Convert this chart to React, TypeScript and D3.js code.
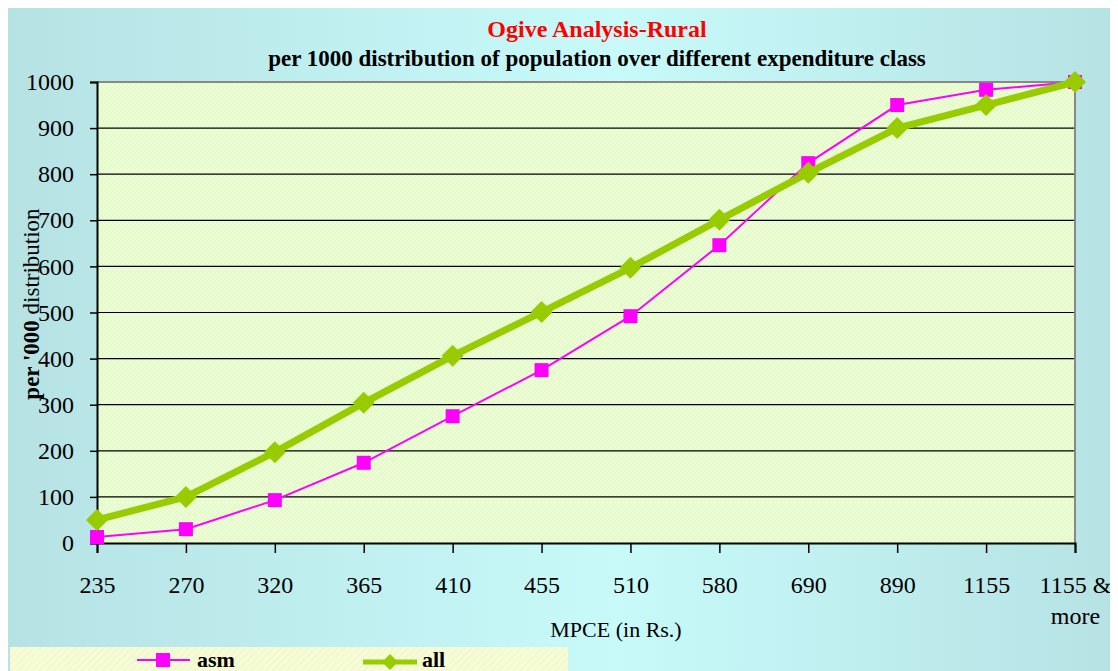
import React, { useEffect, useRef } from "react";
import * as d3 from "d3";

const categories = ["235", "270", "320", "365", "410", "455", "510", "580", "690", "890", "1155", "1155 & more"];
const asm = [13, 30, 93, 174, 275, 375, 492, 646, 824, 950, 983, 1000];
const all = [50, 100, 197, 304, 406, 501, 597, 701, 803, 900, 950, 1000];
const yTicks = [0, 100, 200, 300, 400, 500, 600, 700, 800, 900, 1000];

const W = 1110;
const H = 663;
const M = { left: 89, right: 1067, top: 74, bottom: 535 };
const FONT = "'Liberation Serif', 'Times New Roman', serif";

export default function App() {
  const svgRef = useRef<SVGSVGElement>(null);

  useEffect(() => {
    const svg = d3.select(svgRef.current);
    svg.selectAll("*").remove();

    const defs = svg.append("defs");
    const bg = defs.append("linearGradient").attr("id", "bg").attr("x1", "0").attr("x2", "1");
    bg.append("stop").attr("offset", "0").attr("stop-color", "#b6e2e4");
    bg.append("stop").attr("offset", "0.55").attr("stop-color", "#c8fafa");
    bg.append("stop").attr("offset", "1").attr("stop-color", "#b6e2e4");

    // fine texture inside plot
    const pat = defs.append("pattern").attr("id", "plotfill").attr("width", 4).attr("height", 4).attr("patternUnits", "userSpaceOnUse");
    pat.append("rect").attr("width", 4).attr("height", 4).attr("fill", "#e2fbc8");
    pat.append("rect").attr("x", 0).attr("y", 0).attr("width", 2).attr("height", 2).attr("fill", "#eefdd8");
    pat.append("rect").attr("x", 2).attr("y", 2).attr("width", 2).attr("height", 2).attr("fill", "#eefdd8");

    const hatch = defs.append("pattern").attr("id", "legfill").attr("width", 5).attr("height", 5)
      .attr("patternUnits", "userSpaceOnUse").attr("patternTransform", "rotate(45)");
    hatch.append("rect").attr("width", 5).attr("height", 5).attr("fill", "#f6fcd6");
    hatch.append("line").attr("x1", 0).attr("y1", 0).attr("x2", 0).attr("y2", 5).attr("stroke", "#eaf4c0").attr("stroke-width", 1.5);

    svg.append("rect").attr("width", W).attr("height", H).attr("fill", "url(#bg)");

    const x = d3.scalePoint().domain(categories).range([M.left, M.right]);
    const y = d3.scaleLinear().domain([0, 1000]).range([M.bottom, M.top]);

    svg.append("rect")
      .attr("x", M.left).attr("y", M.top)
      .attr("width", M.right - M.left).attr("height", M.bottom - M.top)
      .attr("fill", "url(#plotfill)");

    // gridlines
    svg.append("g").selectAll("line").data(yTicks.filter(t => t > 0 && t < 1000)).join("line")
      .attr("x1", M.left).attr("x2", M.right)
      .attr("y1", d => y(d)).attr("y2", d => y(d))
      .attr("stroke", "#000").attr("stroke-width", 1.2);

    // top & right border
    svg.append("path")
      .attr("d", `M${M.left},${M.top}H${M.right}V${M.bottom}`)
      .attr("fill", "none").attr("stroke", "#888").attr("stroke-width", 2);

    // y axis
    const yAxis = d3.axisLeft(y).tickValues(yTicks).tickSize(7).tickPadding(16).tickFormat(d3.format("d"));
    const gy = svg.append("g").attr("transform", `translate(${M.left},0)`).call(yAxis);
    gy.select(".domain").attr("stroke", "#000").attr("stroke-width", 2);
    gy.selectAll("line").attr("stroke-width", 1.5);
    gy.selectAll("text").attr("font-family", FONT).attr("font-size", 24).attr("fill", "#000");

    // x axis
    const xAxis = d3.axisBottom(x).tickSize(10).tickFormat(() => "");
    const gx = svg.append("g").attr("transform", `translate(0,${M.bottom})`).call(xAxis);
    gx.select(".domain").attr("stroke", "#000").attr("stroke-width", 2);
    gx.selectAll("line").attr("stroke-width", 1.5);
    gx.selectAll(".tick").each(function (d) {
      const t = d3.select(this);
      const parts = String(d) === "1155 & more" ? ["1155 &", "more"] : [String(d)];
      parts.forEach((p, i) => {
        t.append("text").attr("y", 50 + i * 31).attr("text-anchor", "middle")
          .attr("font-family", FONT).attr("font-size", 24).attr("fill", "#000").text(p);
      });
    });

    // series
    const lineGen = d3.line<number>().x((_, i) => x(categories[i])!).y(v => y(v));
    svg.append("path").datum(asm).attr("d", lineGen)
      .attr("fill", "none").attr("stroke", "#ff00ff").attr("stroke-width", 2);
    svg.append("g").selectAll("rect").data(asm).join("rect")
      .attr("x", (_, i) => x(categories[i])! - 7).attr("y", v => y(v) - 7)
      .attr("width", 14).attr("height", 14).attr("fill", "#ff00ff");

    svg.append("path").datum(all).attr("d", lineGen)
      .attr("fill", "none").attr("stroke", "#99cc00").attr("stroke-width", 7).attr("stroke-linejoin", "round");
    svg.append("g").selectAll("path").data(all).join("path")
      .attr("transform", (v, i) => `translate(${x(categories[i])},${y(v)})`)
      .attr("d", "M0,-11L11,0L0,11L-11,0Z").attr("fill", "#99cc00");

    // titles
    svg.append("text").attr("x", 589).attr("y", 29).attr("text-anchor", "middle")
      .attr("font-family", FONT).attr("font-weight", "bold").attr("font-size", 24).attr("fill", "#ff0000")
      .text("Ogive Analysis-Rural");
    svg.append("text").attr("x", 589).attr("y", 58).attr("text-anchor", "middle")
      .attr("font-family", FONT).attr("font-weight", "bold").attr("font-size", 23).attr("fill", "#000")
      .text("per 1000 distribution of population over different expenditure class");

    svg.append("text").attr("x", 608).attr("y", 629).attr("text-anchor", "middle")
      .attr("font-family", FONT).attr("font-size", 22).attr("fill", "#000").text("MPCE (in Rs.)");

    const yt = svg.append("text").attr("transform", "translate(31,296) rotate(-90)").attr("text-anchor", "middle")
      .attr("font-family", FONT).attr("font-size", 23).attr("fill", "#000");
    yt.append("tspan").attr("font-weight", "bold").text("per '000 ");
    yt.append("tspan").text("distribution");

    // legend
    svg.append("rect").attr("x", 2).attr("y", 639).attr("width", 558).attr("height", 24).attr("fill", "url(#legfill)");
    const leg = svg.append("g").attr("font-family", FONT).attr("font-weight", "bold").attr("font-size", 22);
    leg.append("line").attr("x1", 129).attr("x2", 182).attr("y1", 652).attr("y2", 652).attr("stroke", "#ff00ff").attr("stroke-width", 2);
    leg.append("rect").attr("x", 155 - 7).attr("y", 645).attr("width", 14).attr("height", 14).attr("fill", "#ff00ff");
    leg.append("text").attr("x", 189).attr("y", 659).text("asm");
    leg.append("line").attr("x1", 355).attr("x2", 409).attr("y1", 654).attr("y2", 654).attr("stroke", "#99cc00").attr("stroke-width", 5);
    leg.append("path").attr("transform", "translate(382,654)").attr("d", "M0,-8L8,0L0,8L-8,0Z").attr("fill", "#99cc00");
    leg.append("text").attr("x", 414).attr("y", 659).text("all");
  }, []);

  return <svg ref={svgRef} width={W} height={H} style={{ display: "block" }} />;
}
